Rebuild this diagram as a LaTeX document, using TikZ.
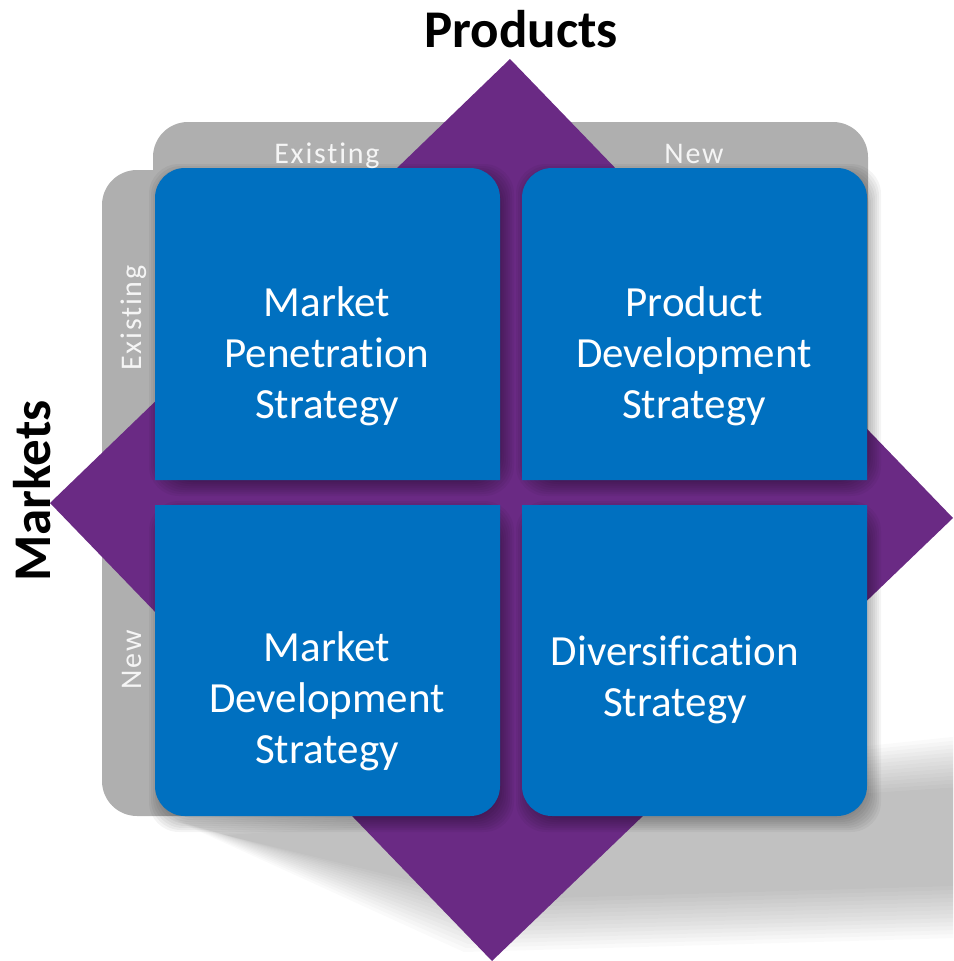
\documentclass[tikz,border=0pt]{standalone}
\usepackage{fontspec}
\setmainfont[Ligatures=NoCommon]{Carlito}
\newfontfamily\lblfont[LetterSpace=6,Ligatures=NoCommon]{Carlito}
\definecolor{dia}{RGB}{106,42,132}
\definecolor{boxblue}{RGB}{0,112,192}
\definecolor{panel}{RGB}{175,175,175}
\definecolor{lbl}{RGB}{245,245,245}
\tikzset{
  boxtext/.style={text=white, font=\fontsize{43}{51}\selectfont, align=center, inner sep=0pt},
  axistitle/.style={text=black, font=\fontsize{53}{60}\selectfont\bfseries, inner sep=0pt},
  paneltext/.style={text=lbl, font=\lblfont\fontsize{30}{36}\selectfont, inner sep=0pt},
  softshade/.style={black, opacity=0.045},
  bigshade/.style={black, opacity=0.019},
}
\newcommand\boxshadow[4]{%
  \foreach \e in {-4,-2,...,10}{%
    \fill[softshade, rounded corners=30] ({#1+4-\e},{#2+6-\e}) rectangle ({#3+4+\e},{#4+6+\e});
  }%
}
\begin{document}
\begin{tikzpicture}[x=1pt,y=-1pt]
\useasboundingbox (0,0) rectangle (953,961);
\clip (0,0) rectangle (953,961);
% large cast shadow
\foreach \e in {0,4,...,52}{%
  \fill[bigshade] ({225-\e},{835-0.3*\e}) -- (990,{785-\e}) -- (990,{885+\e}) -- ({490-0.5*\e},{900+\e}) -- cycle;
}
% grey axis panels
\fill[panel] (153,500) [rounded corners=35] -- (153,122) -- (868,122) [sharp corners] -- (868,500) -- cycle;
\fill[panel] (500,170) [rounded corners=35] -- (102,170) -- (102,816) [sharp corners] -- (500,816) -- cycle;
% purple diamond
\fill[dia] (510,59) -- (953,518) -- (492,961) -- (50,503) -- cycle;
% box shadows
\boxshadow{155}{168}{500}{480}
\boxshadow{522}{168}{867}{480}
\boxshadow{155}{505}{500}{816}
\boxshadow{522}{505}{867}{816}
% blue boxes
\fill[boxblue] (155,480) [rounded corners=30] -- (155,168) -- (500,168) [sharp corners] -- (500,480) -- cycle;
\fill[boxblue] (522,480) [rounded corners=30] -- (522,168) -- (867,168) [sharp corners] -- (867,480) -- cycle;
\fill[boxblue] (155,505) [rounded corners=30] -- (155,816) -- (500,816) [sharp corners] -- (500,505) -- cycle;
\fill[boxblue] (522,505) [rounded corners=30] -- (522,816) -- (867,816) [sharp corners] -- (867,505) -- cycle;
% texts
\node[axistitle, anchor=base] (prod) at (521,47) {Products};
\node[axistitle, anchor=base, rotate=90] (mkt) at (50,491) {Markets};
\node[paneltext, anchor=base] (pe) at (327,163) {Existing};
\node[paneltext, anchor=base] (pn) at (694,163) {New};
\node[paneltext, anchor=base, rotate=90] (me) at (141,318) {Existing};
\node[paneltext, anchor=base, rotate=90] (mn) at (141,660) {New};
\node[boxtext] (mp) at (327,356) {Market\\Penetration\\Strategy};
\node[boxtext] (pd) at (694,356) {Product\\Development\\Strategy};
\node[boxtext] (md) at (327,701) {Market\\Development\\Strategy};
\node[boxtext] (dv) at (675,680) {Diversification\\Strategy};
\end{tikzpicture}
\end{document}
